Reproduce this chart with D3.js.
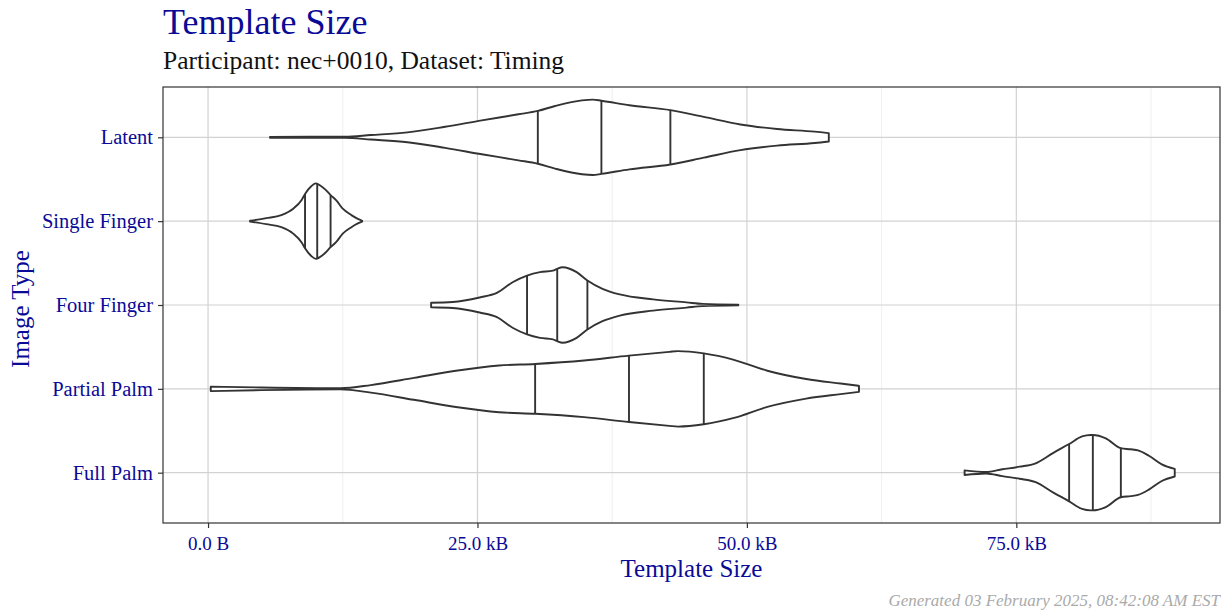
<!DOCTYPE html>
<html>
<head>
<meta charset="utf-8">
<script src="https://cdn.jsdelivr.net/npm/d3@7"></script>
<style>
  body { margin: 0; background: #fff; }
  text { font-family: "Liberation Serif", "DejaVu Serif", serif; }
</style>
</head>
<body>
<svg id="chart" width="1221" height="611"></svg>
<script>
// categories, top to bottom
var categories = ["Latent", "Single Finger", "Four Finger", "Partial Palm", "Full Palm"];

// x ticks (kB)
var majorTicks = [0, 25, 50, 75];
var minorTicks = [12.5, 37.5, 62.5, 87.5];
var tickLabels = ["0.0 B", "25.0 kB", "50.0 kB", "75.0 kB"];

// violin outlines: [size in kB, relative density (1 = widest)]
var latentDensity = [[5.75,0.012],[12.7,0.015],[15.1,0.06],[18.5,0.13],[22.0,0.28],[25.4,0.45],[28.8,0.61],[30.6,0.70],[32.2,0.83],[34.7,0.98],[35.7,1.0],[36.5,0.97],[39.1,0.85],[42.9,0.72],[46.0,0.54],[49.4,0.34],[52.8,0.22],[56.3,0.15],[57.6,0.11]];
var singleDensity = [[3.9,0.01],[5.4,0.08],[6.8,0.16],[7.9,0.33],[8.7,0.57],[9.0,0.72],[9.6,0.93],[10.0,1.0],[10.13,0.99],[10.84,0.85],[11.37,0.69],[11.9,0.55],[12.5,0.33],[13.3,0.16],[13.9,0.06],[14.3,0.01]];
var fourDensity = [[20.7,0.06],[22.7,0.08],[25.2,0.2],[26.8,0.32],[28.3,0.61],[29.6,0.78],[30.8,0.87],[32.0,0.91],[32.4,0.96],[32.9,1.0],[34.2,0.87],[35.2,0.65],[36.6,0.43],[38.2,0.28],[41.3,0.15],[44.4,0.07],[45.9,0.03],[49.2,0.01]];
var partialDensity = [[0.25,0.06],[5,0.035],[12.3,0.015],[15.1,0.1],[19.1,0.29],[23.0,0.48],[27.0,0.62],[30.35,0.66],[34.9,0.75],[39.06,0.88],[42.8,0.98],[43.6,1.0],[46.0,0.94],[48.8,0.77],[51.9,0.48],[55.5,0.26],[58.7,0.14],[60.4,0.08]];
var fullDensity = [[70.2,0.06],[72.2,0.02],[73.7,0.09],[75.3,0.16],[76.8,0.25],[78.4,0.52],[79.9,0.76],[81.1,0.96],[81.9,1.0],[82.1,1.0],[83.3,0.91],[84.7,0.65],[85.6,0.62],[86.3,0.59],[87.3,0.45],[88.5,0.22],[89.7,0.1]];

// 25th, 50th, 75th percentiles (kB)
var latentQuantiles = [30.6, 36.5, 42.9];
var singleQuantiles = [9.0, 10.13, 11.37];
var fourQuantiles = [29.6, 32.4, 35.2];
var partialQuantiles = [30.35, 39.06, 46.0];
var fullQuantiles = [79.9, 82.1, 84.7];

var densities = [latentDensity, singleDensity, fourDensity, partialDensity, fullDensity];
var quantiles = [latentQuantiles, singleQuantiles, fourQuantiles, partialQuantiles, fullQuantiles];

var svg = d3.select("#chart");
var blue = "#0a0a96";

var panel = {left: 163, right: 1220, top: 87, bottom: 523};

var x = d3.scaleLinear().domain([-4.18, 93.9]).range([panel.left, panel.right]);
var y = d3.scalePoint().domain(categories).range([panel.top, panel.bottom]).padding(0.6);
var w = d3.scaleLinear().domain([0, 1]).range([0, y.step() * 0.45]);

// grid
svg.selectAll("line.minor").data(minorTicks).enter().append("line")
    .attr("x1", d => x(d)).attr("x2", d => x(d))
    .attr("y1", panel.top).attr("y2", panel.bottom)
    .attr("stroke", "#ebebeb").attr("stroke-width", 0.8);
svg.selectAll("line.majorx").data(majorTicks).enter().append("line")
    .attr("x1", d => x(d)).attr("x2", d => x(d))
    .attr("y1", panel.top).attr("y2", panel.bottom)
    .attr("stroke", "#d2d2d2").attr("stroke-width", 1.2);
svg.selectAll("line.majory").data(categories).enter().append("line")
    .attr("x1", panel.left).attr("x2", panel.right)
    .attr("y1", d => y(d)).attr("y2", d => y(d))
    .attr("stroke", "#d2d2d2").attr("stroke-width", 1.2);

// lookup width at a quantile from the outline
function widthAt(dens, v) {
    for (var i = 1; i < dens.length; i++) {
        if (dens[i][0] >= v) {
            var a = dens[i-1], b = dens[i];
            var t = (v - a[0]) / (b[0] - a[0]);
            return a[1] + t * (b[1] - a[1]);
        }
    }
    return dens[dens.length-1][1];
}

// violins
categories.forEach(function(cat, i) {
    var cy = y(cat);
    var area = d3.area()
        .curve(d3.curveMonotoneX)
        .x(d => x(d[0]))
        .y0(d => cy - w(d[1]))
        .y1(d => cy + w(d[1]));
    svg.append("path")
        .attr("d", area(densities[i]))
        .attr("fill", "#fff")
        .attr("stroke", "#333")
        .attr("stroke-width", 1.9)
        .attr("stroke-linejoin", "round");
    svg.selectAll(null).data(quantiles[i]).enter().append("line")
        .attr("x1", d => x(d)).attr("x2", d => x(d))
        .attr("y1", d => cy - w(widthAt(densities[i], d)))
        .attr("y2", d => cy + w(widthAt(densities[i], d)))
        .attr("stroke", "#333").attr("stroke-width", 1.9);
});

// panel border
svg.append("rect")
    .attr("x", panel.left).attr("y", panel.top)
    .attr("width", panel.right - panel.left).attr("height", panel.bottom - panel.top)
    .attr("fill", "none").attr("stroke", "#333").attr("stroke-width", 1.2);

// axes
var xAxis = d3.axisBottom(x).tickValues(majorTicks).tickSize(5)
    .tickFormat((d, i) => tickLabels[i]);
var gx = svg.append("g").attr("transform", "translate(0," + panel.bottom + ")").call(xAxis);
gx.select(".domain").remove();
gx.selectAll(".tick line").attr("stroke", "#333").attr("stroke-width", 1.2);
gx.selectAll(".tick text").attr("fill", blue).attr("font-size", 19)
    .attr("font-family", "Liberation Serif").attr("dy", "1.0em");

var yAxis = d3.axisLeft(y).tickSize(5);
var gy = svg.append("g").attr("transform", "translate(" + panel.left + ",0)").call(yAxis);
gy.select(".domain").remove();
gy.selectAll(".tick line").attr("stroke", "#333").attr("stroke-width", 1.2);
gy.selectAll(".tick text").attr("fill", blue).attr("font-size", 20.5)
    .attr("font-family", "Liberation Serif").attr("x", -10);

// titles
svg.append("text").attr("x", 163).attr("y", 34)
    .attr("fill", blue).attr("font-size", 36).text("Template Size");
svg.append("text").attr("x", 163).attr("y", 69)
    .attr("fill", "#111").attr("font-size", 25.5).text("Participant: nec+0010, Dataset: Timing");
svg.append("text").attr("x", (panel.left + panel.right) / 2).attr("y", 577)
    .attr("text-anchor", "middle").attr("fill", blue).attr("font-size", 25)
    .text("Template Size");
svg.append("text").attr("transform", "translate(29," + ((panel.top + panel.bottom) / 2 + 4) + ") rotate(-90)")
    .attr("text-anchor", "middle").attr("fill", blue).attr("font-size", 25)
    .text("Image Type");
svg.append("text").attr("x", 1220).attr("y", 606)
    .attr("text-anchor", "end").attr("fill", "#aaaaaa").attr("font-size", 17)
    .attr("font-style", "italic")
    .text("Generated 03 February 2025, 08:42:08 AM EST");
</script>
</body>
</html>
